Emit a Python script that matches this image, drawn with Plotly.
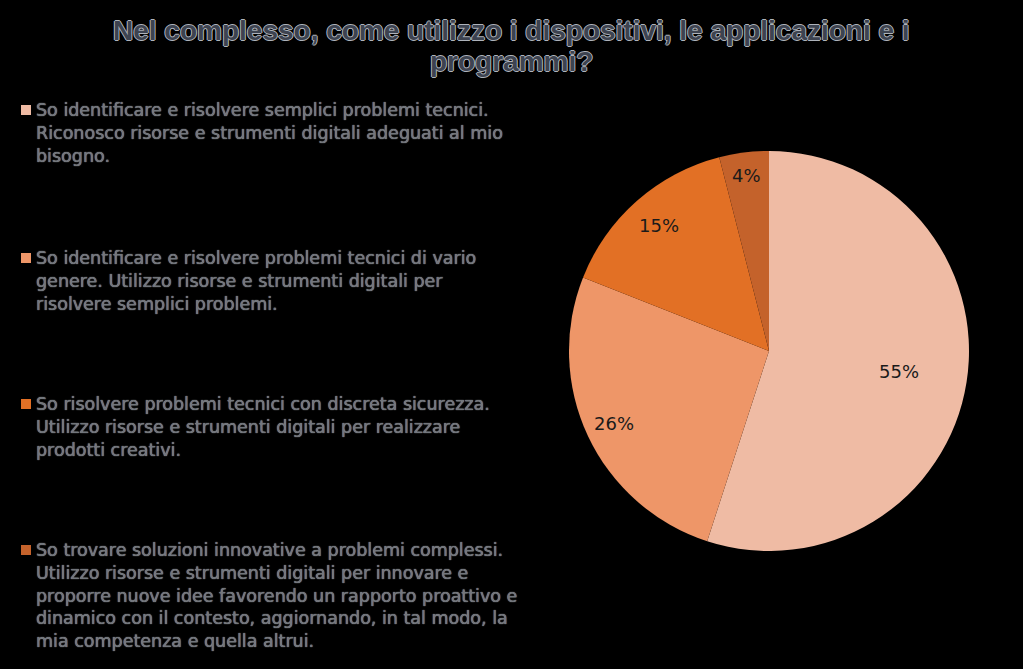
import math
import plotly.graph_objects as go

title_lines = ["Nel complesso, come utilizzo i dispositivi, le applicazioni e i", "programmi?"]
categories = [
    "So identificare e risolvere semplici problemi tecnici.<br>Riconosco risorse e strumenti digitali adeguati al mio<br>bisogno.",
    "So identificare e risolvere problemi tecnici di vario<br>genere. Utilizzo risorse e strumenti digitali per<br>risolvere semplici problemi.",
    "So risolvere problemi tecnici con discreta sicurezza.<br>Utilizzo risorse e strumenti digitali per realizzare<br>prodotti creativi.",
    "So trovare soluzioni innovative a problemi complessi.<br>Utilizzo risorse e strumenti digitali per innovare e<br>proporre nuove idee favorendo un rapporto proattivo e<br>dinamico con il contesto, aggiornando, in tal modo, la<br>mia competenza e quella altrui.",
]
values = [55, 26, 15, 4]
colors = ["#EFBBA4", "#EE9668", "#E27025", "#C4622B"]

# layout / style settings
W, H = 1023, 669
pie_cx, pie_cy, pie_r = 769, 351, 200
label_rfrac = [0.66, 0.855, 0.835, 0.885]
legend_first_line_px = [110, 258, 404, 550]

fig = go.Figure()
fig.add_trace(go.Pie(
    labels=[f"c{i}" for i in range(len(values))],
    values=values,
    sort=False,
    direction="clockwise",
    rotation=0,
    marker=dict(colors=colors, line=dict(width=0)),
    textinfo="none",
    domain=dict(x=[(pie_cx - pie_r)/W, (pie_cx + pie_r)/W],
                y=[(H - pie_cy - pie_r)/H, (H - pie_cy + pie_r)/H]),
    showlegend=False,
    hoverinfo="skip",
))

outline_light = "1px 0 0 #AEB3BB, -1px 0 0 #AEB3BB, 0 1px 0 #AEB3BB, 0 -1px 0 #AEB3BB"
glow_gray = "0 0 1px #bcc0c6"

annotations = []
for line, ypx in zip(title_lines, [30, 62]):
    annotations.append(dict(
        text=line, x=0.5, y=1 - ypx/H, xref="paper", yref="paper",
        xanchor="center", yanchor="middle", showarrow=False, align="center",
        font=dict(family="Liberation Sans, Arial", size=28, color="#3D4350",
                  weight="bold", shadow=outline_light),
    ))

# percentage labels positioned from the cumulative data angles
total = sum(values)
cum = 0
for v, rf in zip(values, label_rfrac):
    mid = (cum + v/2) / total * 2 * math.pi
    cum += v
    lx = pie_cx + rf * pie_r * math.sin(mid)
    ly = pie_cy - rf * pie_r * math.cos(mid)
    annotations.append(dict(
        text=f"{round(v/total*100)}%", x=lx/W, y=1 - ly/H, xref="paper", yref="paper",
        xanchor="center", yanchor="middle", showarrow=False,
        font=dict(family="DejaVu Sans", size=18, color="#1a1a1a"),
    ))

shapes = []
for cat, col, ypx in zip(categories, colors, legend_first_line_px):
    annotations.append(dict(
        text=cat, x=34/W, y=1 - (ypx - 12)/H, xref="paper", yref="paper",
        xanchor="left", yanchor="top", showarrow=False, align="left",
        font=dict(family="DejaVu Sans", size=17.5, color="#72767c",
                  shadow=glow_gray),
    ))
    shapes.append(dict(
        type="rect", xref="paper", yref="paper",
        x0=21/W, x1=31/W, y0=1 - (ypx + 5)/H, y1=1 - (ypx - 5)/H,
        fillcolor=col, line=dict(width=0),
    ))

fig.update_layout(
    width=W, height=H,
    margin=dict(l=0, r=0, t=0, b=0),
    paper_bgcolor="#000000", plot_bgcolor="#000000",
    annotations=annotations, shapes=shapes,
)
fig.write_html("out.html")
